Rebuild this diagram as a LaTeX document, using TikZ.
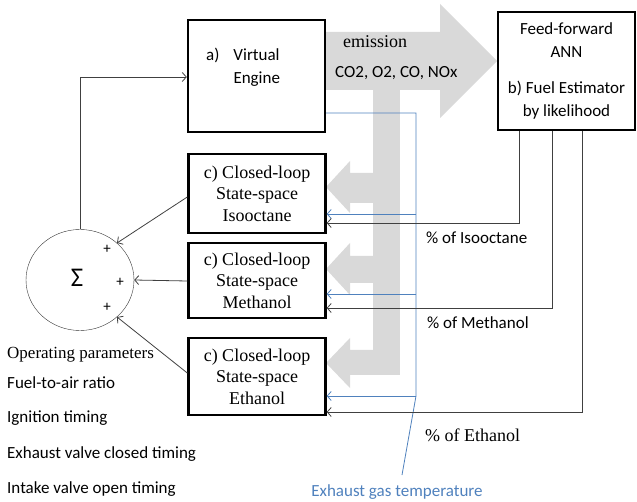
\documentclass[tikz,border=0pt]{standalone}
\usepackage{fontspec}
\setmainfont{Carlito}
\newfontfamily\serifface{Liberation Serif}
\usetikzlibrary{arrows.meta,shapes.geometric}
\definecolor{flowgray}{RGB}{217,217,217}
\definecolor{tempblue}{RGB}{79,129,189}

\begin{document}
\begin{tikzpicture}
  [x=1pt,y=-1pt,>={Straight Barb[length=4pt,width=9pt]},
   block/.style={rectangle, draw=black, line width=2.4pt, inner sep=0pt, minimum width=137},
   ctrl/.style={block, align=center, font=\serifface\fontsize{18}{21.5}\selectfont},
   sig/.style={draw=black!75, thick, ->},
   tmp/.style={draw=tempblue, line width=0.8pt},
   txt/.style={anchor=west, inner sep=0pt, font=\fontsize{17}{20}\selectfont},
   sertxt/.style={txt, font=\serifface\fontsize{18}{20}\selectfont},
   plus/.style={inner sep=0pt, font=\fontsize{15}{15}\selectfont}]
  \useasboundingbox (0,0) rectangle (637,502);

  % gray flow of emission
  \fill [flowgray] (325,32) -- (440,32) -- (440,4) -- (497,61) -- (440,118) -- (440,90) -- (325,90) -- cycle;
  \fill [flowgray] (373,90) rectangle (400,375);
  \fill [flowgray] (373,173) -- (350,173) -- (350,161) -- (326,187) -- (350,213) -- (350,203) -- (373,203) -- cycle;
  \fill [flowgray] (373,256) -- (350,256) -- (350,243) -- (326,269) -- (350,295) -- (350,283) -- (373,283) -- cycle;
  \fill [flowgray] (373,350) -- (350,350) -- (350,338) -- (326,363) -- (350,388) -- (350,375) -- (373,375) -- cycle;

  \node [block, minimum height=112] (engine) at (256.5,76) {};
  \node [txt, align=left, font=\fontsize{17}{23}\selectfont] (enginetxt) at (206,67) {a)\hspace{14pt}Virtual\\\hphantom{a)}\hspace{14pt}Engine};
  \node [block, minimum width=137, minimum height=118, align=center, font=\fontsize{17}{22.5}\selectfont] (ann) at (566.5,71)
    {Feed-forward\\ANN\\[14pt]b) Fuel Estimator\\by likelihood};
  \node [ctrl, minimum height=79] (iso) at (257,193.5) {c) Closed-loop\\State-space\\Isooctane};
  \node [ctrl, minimum height=75] (meth) at (257,280.5) {c) Closed-loop\\State-space\\Methanol};
  \node [ctrl, minimum height=77] (eth) at (257,376.5) {c) Closed-loop\\State-space\\Ethanol};
  \node [ellipse, draw=black!80, minimum width=108, minimum height=101, inner sep=0pt] (sum) at (80,280) {};
  \node [font=\fontsize{27}{28}\selectfont] (sigma) at (77,278) {Σ};
  \node [plus] (p1) at (107,249) {+};
  \node [plus] (p2) at (120,282) {+};
  \node [plus] (p3) at (107,307) {+};

  \node [sertxt] (emis) at (343,42) {emission};
  \node [txt] (gases) at (335,73) {CO2, O2, CO, NOx};
  \node [txt] (isolbl) at (426,238) {\% of Isooctane};
  \node [txt] (methlbl) at (427,323) {\% of Methanol};
  \node [sertxt] (ethlbl) at (425,435) {\% of Ethanol};
  \node [txt, text=tempblue, anchor=center] (templbl) at (397,492) {Exhaust gas temperature};

  \node [sertxt, font=\serifface\fontsize{17}{19}\selectfont] (oppar) at (7,355) {Operating parameters};
  \node [txt] (fuelair) at (7,383) {Fuel-to-air ratio};
  \node [txt] (ign) at (7,418) {Ignition timing};
  \node [txt] (exv) at (7,454) {Exhaust valve closed timing};
  \node [txt] (inv) at (7,489) {Intake valve open timing};

  % exhaust temperature
  \coordinate (tb) at (416,396);
  \coordinate (tend) at (402,475);
  \draw [tmp] (engine.east |- 0,113) -| (tb) -- (tend);
  \draw [tmp, ->] (tb |- 0,214) -- (iso.east |- 0,214);
  \draw [tmp, ->] (tb |- 0,294) -- (meth.east |- 0,294);
  \draw [tmp, ->] (tb) -- (eth.east |- 0,396);

  % fuel fractions
  \draw [sig] (ann.south -| 519,0) |- (iso.east |- 0,223);
  \draw [sig] (ann.south -| 552,0) |- (meth.east |- 0,308);
  \draw [sig] (ann.south -| 582,0) |- (eth.east |- 0,412);

  % into the sum
  \draw [sig] (iso.west |- 0,197) -- (sum.45);
  \draw [sig] (meth.west |- 0,281) -- (sum.east);
  \draw [sig] (eth.west |- 0,373) -- (sum.-45);
  \draw [sig] (sum.north) |- (engine.west |- 0,77);
\end{tikzpicture}
\end{document}
